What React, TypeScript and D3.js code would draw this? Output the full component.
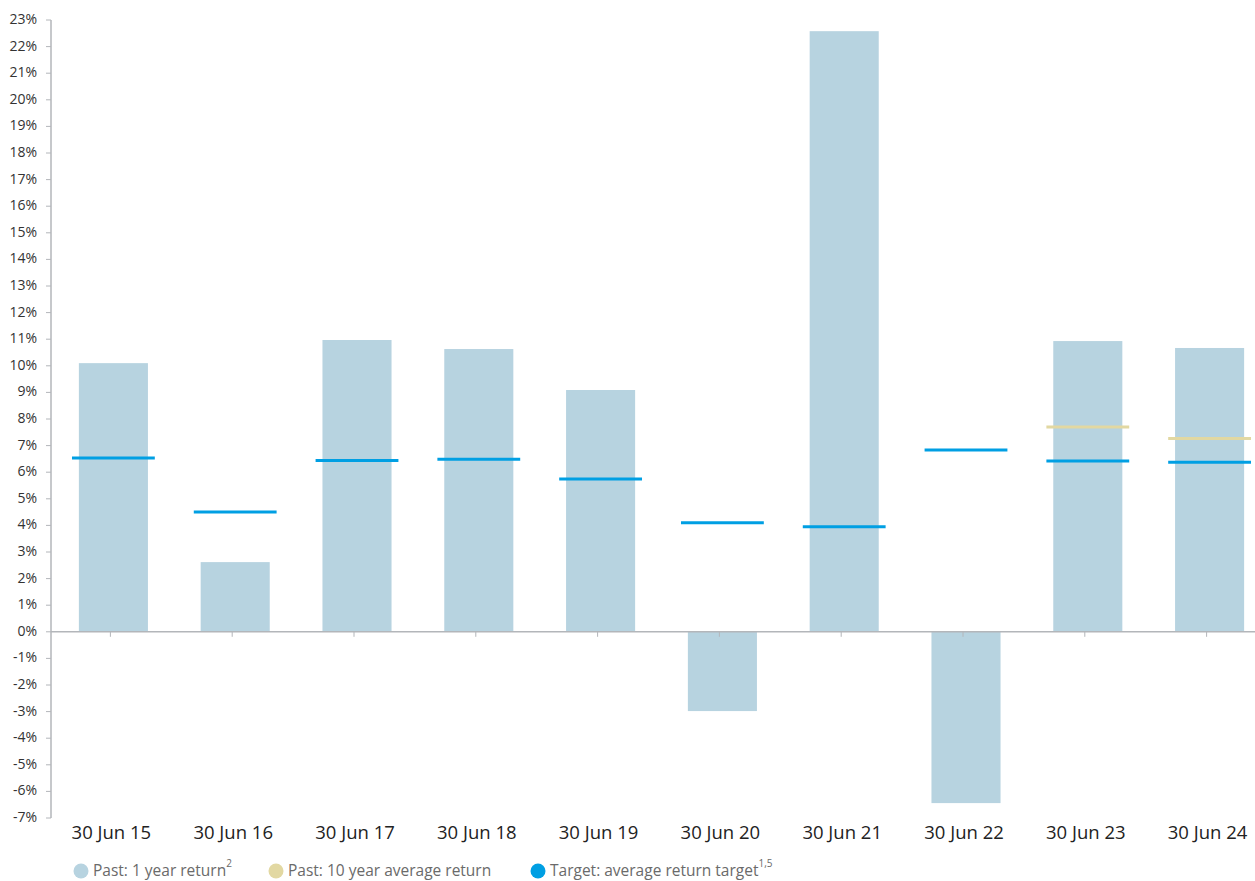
import React from 'react'
import * as d3 from 'd3'

const W = 1255
const H = 881

const years = ['30 Jun 15', '30 Jun 16', '30 Jun 17', '30 Jun 18', '30 Jun 19', '30 Jun 20', '30 Jun 21', '30 Jun 22', '30 Jun 23', '30 Jun 24']
const oneYearReturn = [10.1, 2.62, 10.97, 10.63, 9.09, -2.98, 22.58, -6.44, 10.93, 10.67]
const tenYearAvg: (number | null)[] = [null, null, null, null, null, null, null, null, 7.7, 7.27]
const targetReturn = [6.53, 4.5, 6.44, 6.49, 5.74, 4.1, 3.95, 6.83, 6.42, 6.37]
const yTicks = d3.range(-7, 24)

const FONT = "'Open Sans', 'Noto Sans', sans-serif"
const AXIS = '#b3b6ba'

export default function App() {
  const x = d3.scaleBand<string>().domain(years).range([52.5, 1270.5]).paddingInner(0).paddingOuter(0)
  const y = d3.scaleLinear().domain([-7, 23]).range([818, 20])
  const barW = x.bandwidth() * 0.567
  const lineW = x.bandwidth() * 0.68
  const cx = (d: string) => (x(d) as number) + x.bandwidth() / 2

  return (
    <svg width={W} height={H} style={{ position: 'absolute', left: 0, top: 0 }} fontFamily={FONT}>
      {/* bars */}
      {years.map((d, i) => {
        const v = oneYearReturn[i]
        return (
          <rect key={d} x={cx(d) - barW / 2} width={barW}
            y={Math.min(y(v), y(0))} height={Math.abs(y(v) - y(0))} fill="#b7d3e0" />
        )
      })}

      {/* zero line + category ticks */}
      <line x1={51} x2={W} y1={y(0)} y2={y(0)} stroke={AXIS} strokeWidth={1.5} />
      {years.map(d => (
        <line key={d} x1={cx(d) - 3} x2={cx(d) - 3} y1={y(0)} y2={y(0) + 5} stroke={AXIS} strokeWidth={1} />
      ))}

      {/* y axis */}
      <line x1={51} x2={51} y1={y(23)} y2={y(-7)} stroke={AXIS} strokeWidth={1.5} />
      {yTicks.map(t => (
        <g key={t}>
          <line x1={46} x2={51} y1={y(t)} y2={y(t)} stroke={AXIS} strokeWidth={1} />
          <text x={37} y={y(t) - 1.5} textAnchor="end" dominantBaseline="central" fontSize={14} fill="#333">{t}%</text>
        </g>
      ))}

      {/* 10 year average */}
      {years.map((d, i) => tenYearAvg[i] == null ? null : (
        <line key={d} x1={cx(d) - lineW / 2} x2={cx(d) + lineW / 2}
          y1={y(tenYearAvg[i] as number)} y2={y(tenYearAvg[i] as number)} stroke="#e2d8a2" strokeWidth={3} />
      ))}

      {/* target */}
      {years.map((d, i) => (
        <line key={d} x1={cx(d) - lineW / 2} x2={cx(d) + lineW / 2}
          y1={y(targetReturn[i])} y2={y(targetReturn[i])} stroke="#009fe3" strokeWidth={3} />
      ))}

      {/* x labels */}
      {years.map(d => (
        <text key={d} x={cx(d) - 2} y={831} textAnchor="middle" dominantBaseline="central" fontSize={18.5} fill="#222">{d}</text>
      ))}

      {/* legend */}
      <g fontSize={15.5} fill="#6a6a6a">
        <circle cx={81} cy={871} r={7.5} fill="#b7d3e0" />
        <text x={93} y={870} dominantBaseline="central">Past: 1 year return<tspan dy={-7} fontSize={10}>2</tspan></text>
        <circle cx={276} cy={871} r={7.5} fill="#e2d8a2" />
        <text x={288} y={870} dominantBaseline="central">Past: 10 year average return</text>
        <circle cx={538} cy={871} r={7.5} fill="#009fe3" />
        <text x={550} y={870} dominantBaseline="central">Target: average return target<tspan dy={-7} fontSize={10}>1,5</tspan></text>
      </g>
    </svg>
  )
}
